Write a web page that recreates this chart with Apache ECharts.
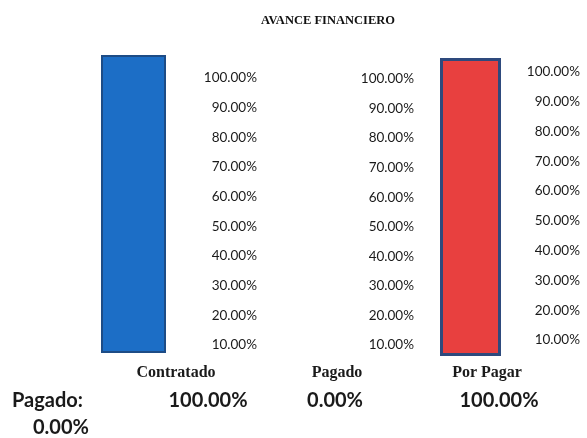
<!DOCTYPE html>
<html>
<head>
<meta charset="utf-8">
<script src="https://cdn.jsdelivr.net/npm/echarts@6/dist/echarts.min.js"></script>
<style>
html,body{margin:0;padding:0;background:#fff;}
#chart{width:587px;height:438px;}
</style>
</head>
<body>
<div id="chart"></div>
<script>
const chartTitle = 'AVANCE FINANCIERO';
const categories = ['Contratado', 'Pagado', 'Por Pagar'];
const values = [100, 0, 100];
const tickValues = [10, 20, 30, 40, 50, 60, 70, 80, 90, 100];
const summaryLabel = 'Pagado:';
const summaryValue = 0;

const fmt = v => v.toFixed(2) + '%';

const chart = echarts.init(document.getElementById('chart'), null, {renderer: 'canvas'});

// bar panels
const barGrids = [
  {left: 101, top: 55, width: 65, height: 298},
  {left: 290, top: 57, width: 60, height: 298},
  {left: 440, top: 58, width: 61, height: 298}
];
const barStyles = [
  {color: '#1c6ec6', borderColor: '#1d4c86', borderWidth: 2},
  {color: '#d9d9d9', borderColor: '#2e4a7d', borderWidth: 0},
  {color: '#e8403f', borderColor: '#2e4a7d', borderWidth: 3}
];
// label panels (top = 100%, bottom = 10%)
const labelGrids = [
  {left: 260, top: 78, width: 5, height: 267},
  {left: 417, top: 79, width: 5, height: 266},
  {left: 583, top: 72, width: 2, height: 268}
];

const grids = [], xAxes = [], yAxes = [], series = [];
barGrids.forEach((g, i) => {
  grids.push(Object.assign({}, g));
  xAxes.push({type: 'category', gridIndex: i, data: [categories[i]], show: false});
  yAxes.push({type: 'value', gridIndex: i, min: 0, max: 100, show: false});
  series.push({
    type: 'bar', xAxisIndex: i, yAxisIndex: i,
    data: [values[i]], barWidth: '100%',
    itemStyle: barStyles[i], silent: true
  });
});
labelGrids.forEach((g, j) => {
  const gi = barGrids.length + j;
  grids.push(Object.assign({}, g));
  xAxes.push({type: 'category', gridIndex: gi, data: [''], show: false});
  yAxes.push({
    type: 'value', gridIndex: gi, position: 'left',
    min: tickValues[0], max: tickValues[tickValues.length - 1], interval: 10,
    axisLine: {show: false}, axisTick: {show: false}, splitLine: {show: false},
    axisLabel: {
      formatter: v => fmt(v), align: 'right', margin: 3,
      fontFamily: 'Lato', fontSize: 13.5, color: '#1a1a1a'
    }
  });
});

const catX = [176, 337, 487];
const valX = [208, 335, 499];
const graphic = [];
categories.forEach((c, i) => {
  graphic.push({type: 'text', x: catX[i], y: 373, style: {
    text: c, fill: '#1a1a1a', font: 'bold 16px "Liberation Serif"', textAlign: 'center', textVerticalAlign: 'middle'
  }});
  graphic.push({type: 'text', x: valX[i], y: 401, style: {
    text: fmt(values[i]), fill: '#1a1a1a', font: 'bold 20px Lato', textAlign: 'center', textVerticalAlign: 'middle'
  }});
});
graphic.push({type: 'text', x: 12, y: 401, style: {
  text: summaryLabel, fill: '#1a1a1a', font: 'bold 20px Lato', textAlign: 'left', textVerticalAlign: 'middle'
}});
graphic.push({type: 'text', x: 33, y: 428, style: {
  text: fmt(summaryValue), fill: '#1a1a1a', font: 'bold 20px Lato', textAlign: 'left', textVerticalAlign: 'middle'
}});

chart.setOption({
  animation: false,
  backgroundColor: '#ffffff',
  title: {
    text: chartTitle, left: 323, top: 9, textAlign: 'center',
    textStyle: {fontFamily: 'Liberation Serif', fontWeight: 'bold', fontSize: 12.5, color: '#111111'}
  },
  grid: grids,
  xAxis: xAxes,
  yAxis: yAxes,
  series: series,
  graphic: graphic
});
</script>
</body>
</html>
